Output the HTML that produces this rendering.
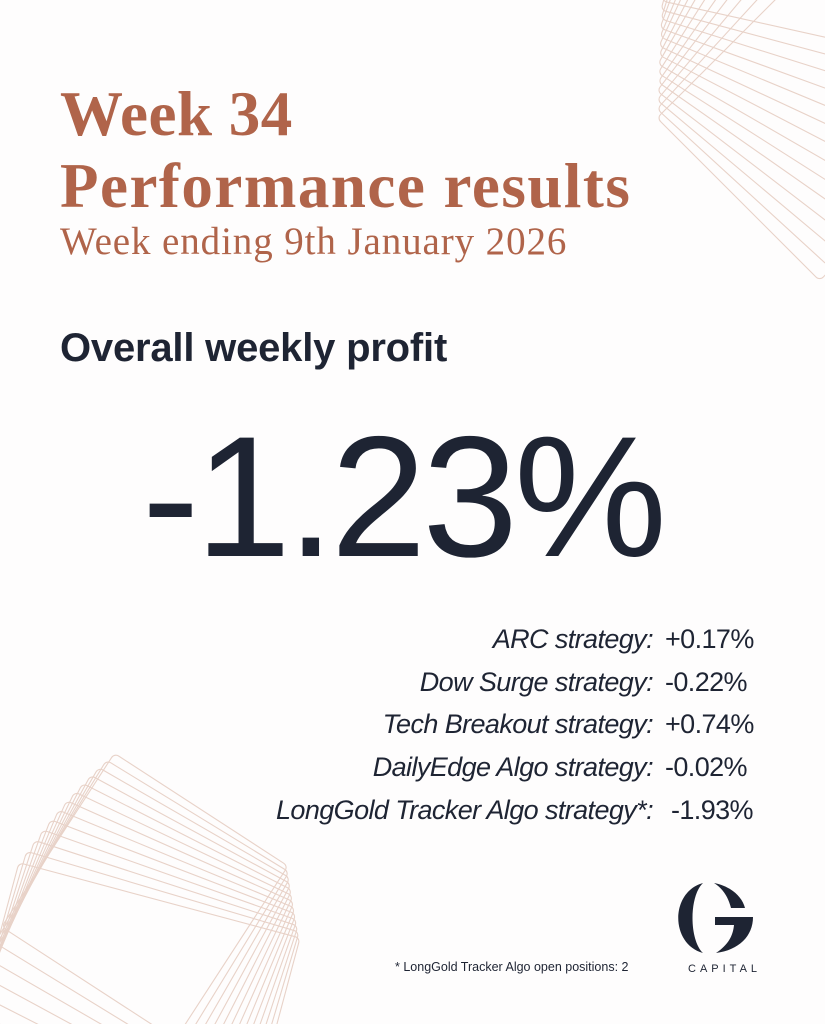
<!DOCTYPE html>
<html style="overflow:hidden"><head><meta charset="utf-8"><style>
html,body{margin:0;padding:0;overflow:hidden}
body{width:825px;height:1024px;background:#fefdfd;position:relative;overflow:hidden;font-family:"Liberation Sans",sans-serif}
.a{position:absolute;white-space:nowrap}
.t{font-family:"Liberation Serif",serif;color:#b0644a;font-weight:bold;font-size:63px;left:60px;letter-spacing:1.5px}
.row{position:absolute;left:0;width:825px;font-size:27px;color:#1e2433;letter-spacing:-0.6px;height:32px}
.row .l{position:absolute;right:172px;font-style:italic}
.row .v{position:absolute;left:665px}
</style></head><body>
<svg class="a" style="left:0;top:0;overflow:hidden" width="825" height="1024">
<g fill="none" stroke="#e8d2c8" stroke-width="1.1">
<rect x="0" y="-230" width="230" height="230" rx="5" transform="translate(657,118) rotate(45)"/>
<rect x="0" y="-232" width="232" height="232" rx="5" transform="translate(657,109) rotate(42.5)"/>
<rect x="0" y="-234" width="234" height="234" rx="5" transform="translate(657,100) rotate(40)"/>
<rect x="0" y="-236" width="236" height="236" rx="5" transform="translate(657,91) rotate(37.5)"/>
<rect x="0" y="-238" width="238" height="238" rx="5" transform="translate(658,82) rotate(35)"/>
<rect x="0" y="-240" width="240" height="240" rx="5" transform="translate(658,73) rotate(32.5)"/>
<rect x="0" y="-242" width="242" height="242" rx="5" transform="translate(658,64) rotate(30)"/>
<rect x="0" y="-244" width="244" height="244" rx="5" transform="translate(659,55) rotate(27.5)"/>
<rect x="0" y="-246" width="246" height="246" rx="5" transform="translate(659,46) rotate(25)"/>
<rect x="0" y="-248" width="248" height="248" rx="5" transform="translate(660,37) rotate(22.5)"/>
<rect x="0" y="-250" width="250" height="250" rx="5" transform="translate(660,28) rotate(20)"/>
<rect x="0" y="-252" width="252" height="252" rx="5" transform="translate(661,19) rotate(17.5)"/>
<rect x="0" y="-254" width="254" height="254" rx="5" transform="translate(661,10) rotate(15)"/>
<rect x="0" y="-256" width="256" height="256" rx="5" transform="translate(662,1) rotate(12.5)"/>

<rect x="-207" y="0" width="207" height="207" rx="5" transform="translate(288,866) rotate(33)"/>
<rect x="-214" y="0" width="214" height="214" rx="5" transform="translate(289,872) rotate(31.5)"/>
<rect x="-221" y="0" width="221" height="221" rx="5" transform="translate(290,878) rotate(30)"/>
<rect x="-228" y="0" width="228" height="228" rx="5" transform="translate(291,884) rotate(28.5)"/>
<rect x="-235" y="0" width="235" height="235" rx="5" transform="translate(292,890) rotate(27)"/>
<rect x="-242" y="0" width="242" height="242" rx="5" transform="translate(293,896) rotate(25.5)"/>
<rect x="-249" y="0" width="249" height="249" rx="5" transform="translate(294,902) rotate(24)"/>
<rect x="-256" y="0" width="256" height="256" rx="5" transform="translate(295,908) rotate(22.5)"/>
<rect x="-263" y="0" width="263" height="263" rx="5" transform="translate(296,914) rotate(21)"/>
<rect x="-270" y="0" width="270" height="270" rx="5" transform="translate(297,920) rotate(19.5)"/>
<rect x="-277" y="0" width="277" height="277" rx="5" transform="translate(298,926) rotate(18)"/>
<rect x="-284" y="0" width="284" height="284" rx="5" transform="translate(299,932) rotate(16.5)"/>
<rect x="-291" y="0" width="291" height="291" rx="5" transform="translate(300,938) rotate(15)"/>
</g>
<path d="M703,883 C670,892 670,944 703,953 C689,940 689,896 703,883Z" fill="#1e2433"/>
<path d="M714,883 C730,886 742,896 745,908 L731,908 C728,896 722,888 714,883Z" fill="#1e2433"/>
<path d="M715,917 L753,917 C753,936 739,950 716,953 C728,945 733,936 734,925 L715,925Z" fill="#1e2433"/>
</svg>
<div class="a t" style="top:78px;letter-spacing:0.5px">Week 34</div>
<div class="a t" style="top:150px">Performance results</div>
<div class="a" style="left:60px;top:219px;font-family:'Liberation Serif',serif;color:#b0644a;font-size:39px;letter-spacing:0.9px">Week ending 9th January 2026</div>
<div class="a" style="left:60px;top:326px;font-size:40px;font-weight:bold;color:#1e2433;letter-spacing:-0.2px">Overall weekly profit</div>
<div class="a" style="left:142px;top:398px;font-size:172px;color:#1e2433;letter-spacing:-4px">-1.23%</div>
<div class="row" style="top:624px"><span class="l">ARC strategy:</span><span class="v">+0.17%</span></div>
<div class="row" style="top:667px"><span class="l">Dow Surge strategy:</span><span class="v">-0.22%</span></div>
<div class="row" style="top:709px"><span class="l">Tech Breakout strategy:</span><span class="v">+0.74%</span></div>
<div class="row" style="top:752px"><span class="l">DailyEdge Algo strategy:</span><span class="v">-0.02%</span></div>
<div class="row" style="top:795px"><span class="l">LongGold Tracker Algo strategy*:</span><span class="v" style="left:671px">-1.93%</span></div>
<div class="a" style="left:395px;top:960px;font-size:12.5px;color:#1e2433">* LongGold Tracker Algo open positions: 2</div>
<div class="a" style="left:688px;top:963px;font-size:11px;color:#1e2433;letter-spacing:4px">CAPITAL</div>
</body></html>
